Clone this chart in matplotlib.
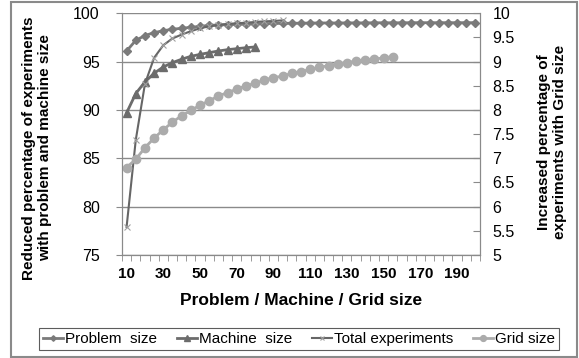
import matplotlib.pyplot as plt
from matplotlib.patches import Rectangle
from matplotlib.ticker import FixedLocator, FormatStrFormatter
import numpy as np

plt.rcParams['font.family'] = ['Liberation Sans', 'DejaVu Sans']

# category axis: 10, 15, ..., 200
categories = list(range(10, 205, 5))

problem_size = [96.1, 97.2, 97.7, 98.0, 98.2, 98.35, 98.45, 98.55, 98.65, 98.75,
                98.8, 98.82, 98.86, 98.89, 98.92, 98.93, 98.95, 98.96, 98.97, 98.98,
                98.99, 99.0, 99.0, 99.0, 99.01, 99.01, 99.01, 99.02, 99.02, 99.02,
                99.02, 99.03, 99.03, 99.03, 99.03, 99.03, 99.03, 99.03, 99.03]
machine_size = [89.7, 91.7, 92.9, 93.8, 94.45, 94.9, 95.25, 95.55, 95.75, 95.93,
                96.1, 96.24, 96.34, 96.44, 96.52]
total_experiments = [77.9, 86.9, 92.7, 95.4, 96.7, 97.4, 97.8, 98.15, 98.45, 98.65,
                     98.8, 98.9, 98.97, 99.03, 99.1, 99.17, 99.2, 99.27]
# secondary axis
grid_size = [6.81, 6.98, 7.22, 7.42, 7.59, 7.75, 7.88, 7.99, 8.10, 8.19,
             8.29, 8.36, 8.43, 8.50, 8.55, 8.62, 8.67, 8.70, 8.76, 8.79,
             8.84, 8.88, 8.92, 8.95, 8.98, 9.01, 9.03, 9.05, 9.08, 9.10]

x_labels = [str(c) for c in categories]

fig = plt.figure(figsize=(5.79, 3.58), dpi=100)
ax = fig.add_axes([122 / 579, 103 / 358, 358 / 579, 241.7 / 358])
ax2 = ax.twinx()

idx = np.arange(len(categories))

l1, = ax.plot(idx[:len(problem_size)], problem_size, color='#7a7a7a', lw=2,
              marker='D', ms=4, label='Problem  size')
l2, = ax.plot(idx[:len(machine_size)], machine_size, color='#6c6c6c', lw=2,
              marker='^', ms=6, label='Machine  size')
l3, = ax.plot(idx[:len(total_experiments)], total_experiments, color='#666666', lw=1.5,
              marker='x', ms=4, mec='#a0a0a0', mew=0.8, label='Total experiments')
l4, = ax2.plot(idx[:len(grid_size)], grid_size, color='#ababab', lw=2,
               marker='o', ms=6, label='Grid size')

gray = '#8a8a8a'
ax.set_xlim(-0.5, len(categories) - 0.5)
ax.set_ylim(75, 100)
ax.set_yticks(np.arange(75, 101, 5))
ax.grid(axis='y', color=gray, lw=1)
ax.set_axisbelow(True)
ax2.set_ylim(5, 10)
ax2.set_yticks(np.arange(5, 10.01, 0.5))
ax2.yaxis.set_major_formatter(FormatStrFormatter('%g'))

ax.set_xticks(idx[::4])
ax.set_xticklabels(x_labels[::4], fontsize=11, fontweight='bold')
ax.xaxis.set_minor_locator(FixedLocator(np.arange(-0.5, len(categories), 1)))
ax.tick_params(axis='x', which='major', length=0, pad=9)
ax.tick_params(axis='x', which='minor', length=4, color=gray, direction='out')
ax.tick_params(axis='y', length=4, color=gray, labelsize=11.5, pad=12)
ax2.tick_params(axis='y', length=5, color=gray, direction='in', labelsize=11.5, pad=9)

for a in (ax, ax2):
    a.spines['top'].set_visible(False)
    for s in ('left', 'right', 'bottom'):
        a.spines[s].set_color(gray)

ax.set_xlabel('Problem / Machine / Grid size', fontsize=12.5, fontweight='bold', labelpad=8)
fig.text(37 / 579, 1 - 148 / 358, 'Reduced percentage of experiments\nwith problem and machine size',
         rotation=90, ha='center', va='center', fontsize=11, fontweight='bold',
         multialignment='center', linespacing=1.1)
fig.text(552 / 579, 1 - 142 / 358, 'Increased percentage of\nexperiments with Grid size',
         rotation=90, ha='center', va='center', fontsize=11, fontweight='bold',
         multialignment='center', linespacing=1.1)

leg = fig.legend(handles=[l1, l2, l3, l4], loc='center', ncol=4,
                 bbox_to_anchor=(299 / 579, 1 - 339 / 358), fontsize=11,
                 handlelength=1.3, handletextpad=0.15, columnspacing=1.3,
                 frameon=True, fancybox=False, borderpad=0.25, borderaxespad=0,
                 markerscale=0.7)
leg.get_frame().set_edgecolor('#333333')
leg.get_frame().set_linewidth(0.8)

fig.patches.append(Rectangle((11 / 579, 1 / 358), 566 / 579, 355 / 358,
                             transform=fig.transFigure, fill=False,
                             edgecolor=gray, lw=1.5))

fig.savefig('out.png', dpi=100)
